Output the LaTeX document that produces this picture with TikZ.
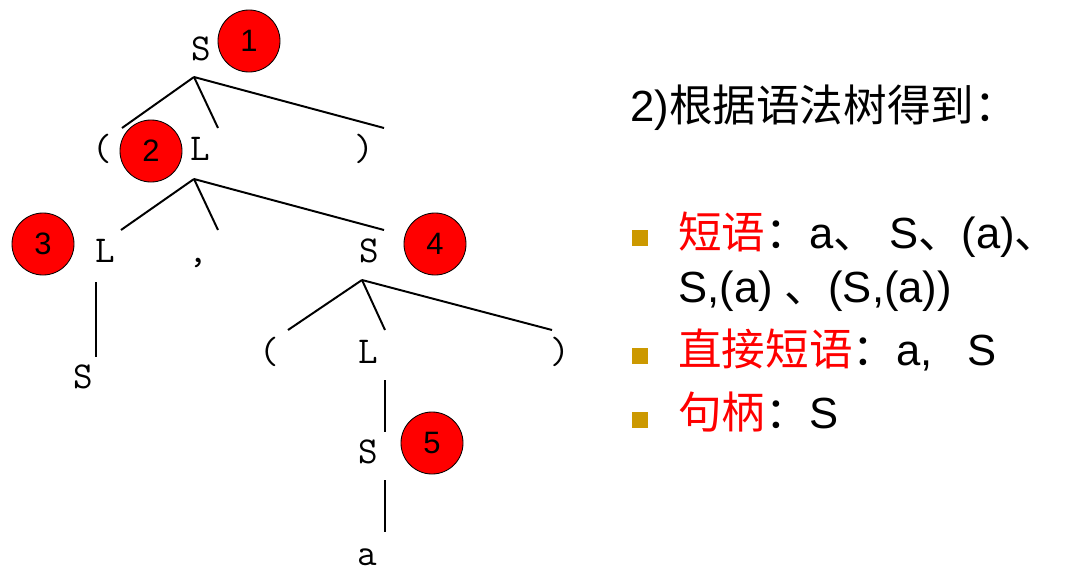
\documentclass[tikz,border=0pt]{standalone}
\usepackage{fontspec}
\setmainfont{Liberation Sans}
\newfontfamily\cjk{Noto Sans CJK SC}
\newcommand{\zh}[1]{{\cjk #1}}
\definecolor{bulletgold}{HTML}{CC9900}
\begin{document}
\begin{tikzpicture}[x=0.025cm, y=-0.025cm,
    sym/.style={anchor=base, inner sep=0pt, font=\fontsize{27}{30}\selectfont\ttfamily},
    badge/.style={circle, draw=black, line width=0.6pt, fill=red, minimum size=1.55cm,
                  inner sep=0pt, font=\fontsize{22}{26}\selectfont},
    bulletbox/.style={rectangle, fill=bulletgold, minimum size=0.4cm, inner sep=0pt},
    item/.style={anchor=base west, inner sep=0pt, font=\fontsize{31}{36}\selectfont},
    branch/.style={line width=1.4pt}]
    \useasboundingbox (0,0) rectangle (1069,573);

    % Syntax tree
    \node[sym] (S1) at (201,60) {S};
    \node[sym] (lpA) at (102,160) {(};
    \node[sym] (LA) at (200,160) {L};
    \node[sym] (rpA) at (364,160) {)};
    \node[sym] (LB) at (105,262) {L};
    \node[sym] (cm) at (198,262) {,};
    \node[sym] (S4) at (369,262) {S};
    \node[sym] (S3) at (83,388) {S};
    \node[sym] (lpB) at (269,363) {(};
    \node[sym] (LC) at (368,363) {L};
    \node[sym] (rpB) at (560,363) {)};
    \node[sym] (S5) at (368,463) {S};
    \node[sym] (a) at (367,565) {a};

    \coordinate (j1) at ([shift={(-7,17)}]S1.base);
    \draw[branch] (j1) -- ([shift={(20,-32)}]lpA.base);
    \draw[branch] (j1) -- ([shift={(18,-32)}]LA.base);
    \draw[branch] (j1) -- ([shift={(20,-32)}]rpA.base);

    \coordinate (j2) at ([shift={(-6,19)}]LA.base);
    \draw[branch] (j2) -- ([shift={(16,-32)}]LB.base);
    \draw[branch] (j2) -- ([shift={(20,-32)}]cm.base);
    \draw[branch] (j2) -- ([shift={(15,-32)}]S4.base);

    \draw[branch] ([shift={(-9,20)}]LB.base) -- ([shift={(13,-31)}]S3.base);

    \coordinate (j3) at ([shift={(-7,18)}]S4.base);
    \draw[branch] (j3) -- ([shift={(19,-33)}]lpB.base);
    \draw[branch] (j3) -- ([shift={(17,-33)}]LC.base);
    \draw[branch] (j3) -- ([shift={(-8,-33)}]rpB.base);

    \draw[branch] ([shift={(17,17)}]LC.base) -- ([shift={(17,-31)}]S5.base);
    \draw[branch] ([shift={(17,17)}]S5.base) -- ([shift={(18,-33)}]a.base);

    % Numbered marks
    \node[badge] (c1) at (249,41) {1};
    \node[badge] (c2) at (151,151) {2};
    \node[badge] (c3) at (43,244) {3};
    \node[badge] (c4) at (435,244) {4};
    \node[badge] (c5) at (432,443) {5};

    % Result text
    \node[item] (head) at (630,121) {2)\zh{根据语法树得到：}};
    \node[bulletbox] (b1) at (640,238) {};
    \node[bulletbox] (b2) at (640,356) {};
    \node[bulletbox] (b3) at (640,420) {};
    \node[item] (t1) at (678,248) {\textcolor{red}{\zh{短语}}\zh{：}a\zh{、} S\zh{、}(a)\zh{、}};
    \node[item] (t2) at (678,302) {S,(a) \zh{、}(S,(a))};
    \node[item] (t3) at (678,365) {\textcolor{red}{\zh{直接短语}}\zh{：}a,\hspace{0.8em}S};
    \node[item] (t4) at (678,428) {\textcolor{red}{\zh{句柄}}\zh{：}S};
\end{tikzpicture}
\end{document}
